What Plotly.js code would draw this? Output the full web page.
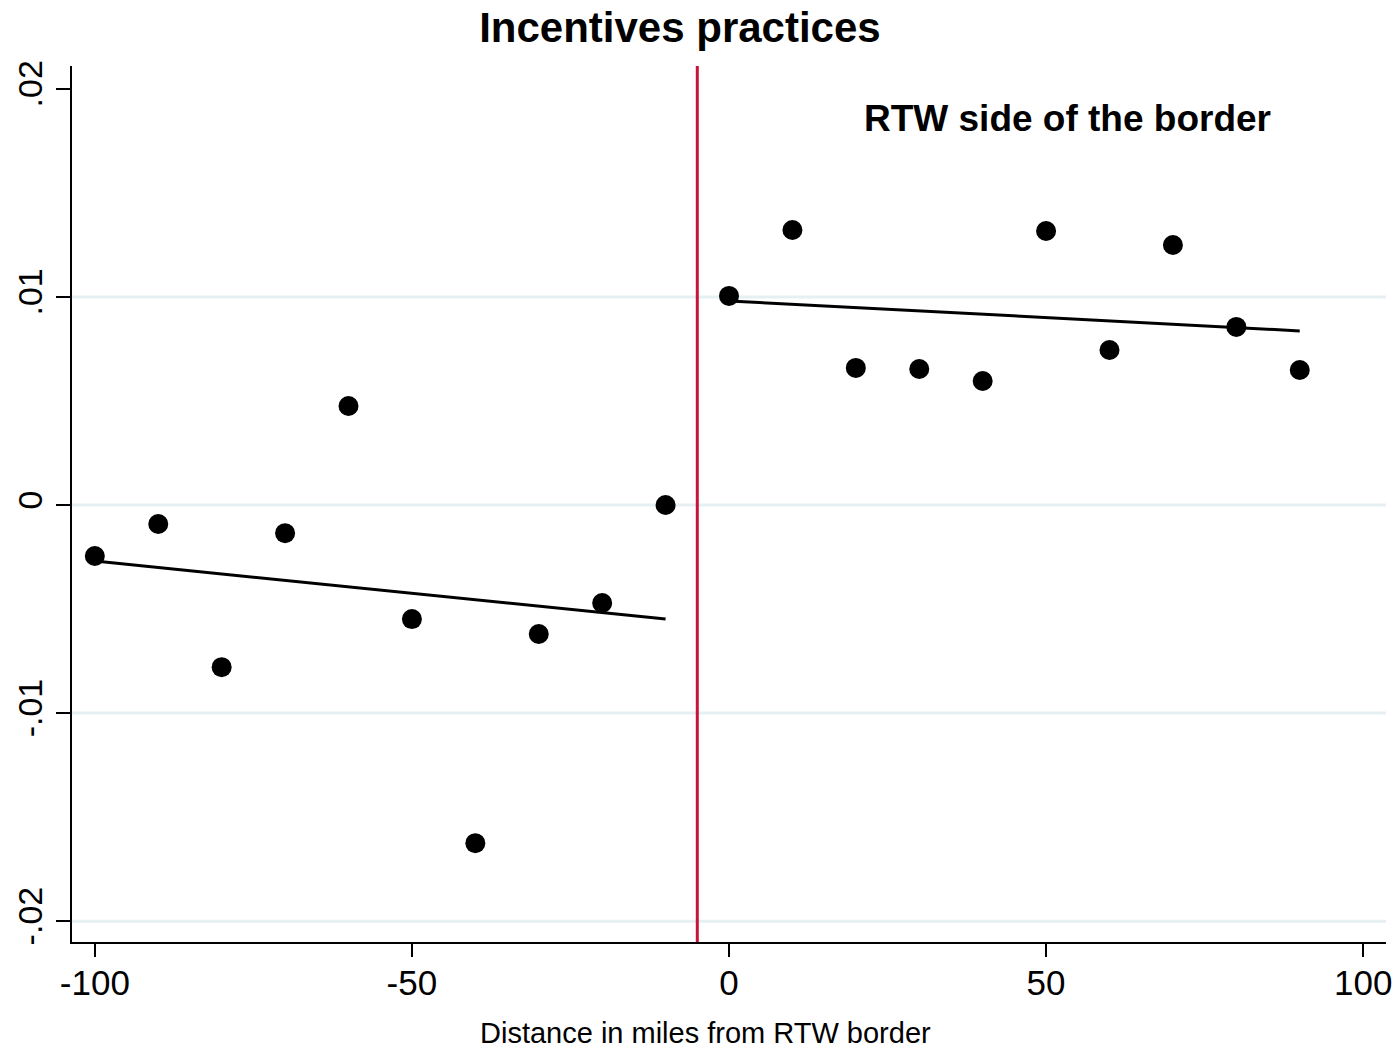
<!DOCTYPE html>
<html>
<head>
<meta charset="utf-8">
<script src="https://cdn.plot.ly/plotly-3.0.1.min.js"></script>
<style>html,body{margin:0;padding:0;background:#fff;}#chart{width:1399px;height:1051px;}</style>
</head>
<body>
<div id="chart"></div>
<script>
// Binned means, non-RTW side (left of border)
const leftX = [-100, -90, -80, -70, -60, -50, -40, -30, -20, -10];
const leftY = [-0.00245, -0.00091, -0.00779, -0.00135, 0.00476, -0.00548, -0.01625, -0.0062, -0.00471, 0.0000];
// Binned means, RTW side
const rightX = [0, 10, 20, 30, 40, 50, 60, 70, 80, 90];
const rightY = [0.01005, 0.01322, 0.00659, 0.00654, 0.00596, 0.01317, 0.00745, 0.0125, 0.00856, 0.00649];
// Linear fit endpoints
const leftFitX = [-100, -10];
const leftFitY = [-0.00269, -0.00548];
const rightFitX = [0, 90];
const rightFitY = [0.00981, 0.00837];
// Border line
const borderX = -5;
// Axis ticks
const xTickVals = [-100, -50, 0, 50, 100];
const xTickText = ["-100", "-50", "0", "50", "100"];
const yTickVals = [-0.02, -0.01, 0, 0.01, 0.02];
const yTickText = ["-.02", "-.01", "0", ".01", ".02"];
const yGridVals = [-0.02, -0.01, 0, 0.01];

const FONT = '"Liberation Sans", Arial, sans-serif';

const traces = [
  {x: leftFitX, y: leftFitY, mode: 'lines', line: {color: '#000', width: 3}, hoverinfo: 'skip', showlegend: false},
  {x: rightFitX, y: rightFitY, mode: 'lines', line: {color: '#000', width: 3}, hoverinfo: 'skip', showlegend: false},
  {x: leftX, y: leftY, mode: 'markers', marker: {color: '#000', size: 20}, showlegend: false},
  {x: rightX, y: rightY, mode: 'markers', marker: {color: '#000', size: 20}, showlegend: false}
];

const shapes = yGridVals.map(v => ({
  type: 'line', xref: 'paper', x0: 0, x1: 1, yref: 'y', y0: v, y1: v,
  line: {color: '#e6eff1', width: 3}, layer: 'below'
}));
shapes.push({
  type: 'line', xref: 'x', x0: borderX, x1: borderX, yref: 'paper', y0: 0, y1: 1,
  line: {color: '#c8133b', width: 3}, layer: 'above'
});

const layout = {
  width: 1399, height: 1051,
  margin: {l: 72, r: 13, t: 66, b: 109},
  paper_bgcolor: '#fff', plot_bgcolor: '#fff',
  font: {family: FONT, color: '#000'},
  title: {text: '<b>Incentives practices</b>', font: {family: FONT, size: 42, color: '#000'},
          x: 0.486, xanchor: 'center', y: 1 - 27/1051, yanchor: 'middle', yref: 'container'},
  xaxis: {
    range: [-103.6, 103.6], tickmode: 'array', tickvals: xTickVals, ticktext: xTickText,
    showgrid: false, zeroline: false, showline: true, linecolor: '#000', linewidth: 2,
    ticks: 'outside', ticklen: 13, tickwidth: 2, tickcolor: '#000', ticklabelstandoff: -4,
    tickfont: {family: FONT, size: 35, color: '#000'}
  },
  yaxis: {
    range: [-0.0210, 0.0211], tickmode: 'array', tickvals: yTickVals, ticktext: yTickText,
    showgrid: false, zeroline: false, showline: true, linecolor: '#000', linewidth: 2,
    ticks: 'outside', ticklen: 14, tickwidth: 2, tickcolor: '#000', tickangle: -90,
    tickfont: {family: FONT, size: 34, color: '#000'}
  },
  shapes: shapes,
  annotations: [{
    x: 53.3, y: 0.0186, xref: 'x', yref: 'y', text: '<b>RTW side of the border</b>',
    showarrow: false, font: {family: FONT, size: 37, color: '#000'}, xanchor: 'center', yanchor: 'middle'
  }, {
    x: 0.482, y: -0.104, xref: 'paper', yref: 'paper', text: 'Distance in miles from RTW border',
    showarrow: false, font: {family: FONT, size: 29, color: '#000'}, xanchor: 'center', yanchor: 'middle'
  }]
};

Plotly.newPlot('chart', traces, layout, {displayModeBar: false, staticPlot: true});
</script>
</body>
</html>
